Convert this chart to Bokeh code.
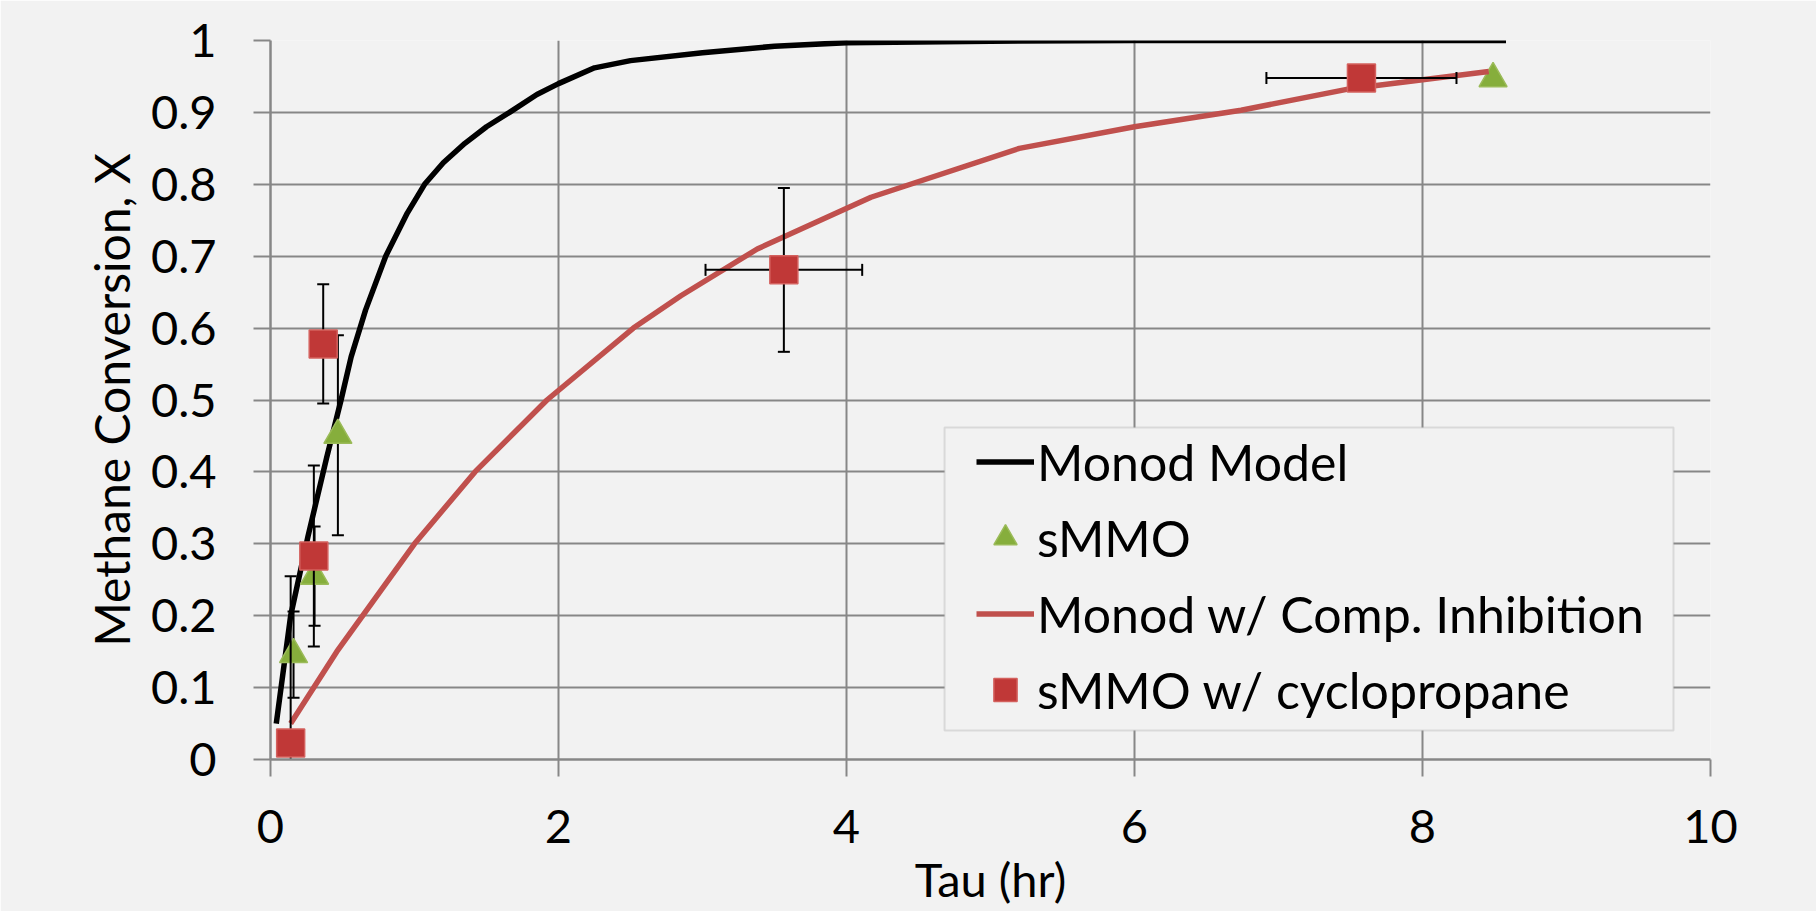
import numpy as np
from bokeh.plotting import figure
from bokeh.models import (Range1d, FixedTicker, Legend, LegendItem, BoxAnnotation)
from bokeh.embed import file_html
from bokeh.resources import INLINE

# ---------------- data ----------------
tau_monod = [0.04, 0.14, 0.26, 0.39, 0.49, 0.56, 0.66, 0.80, 0.95, 1.07, 1.20, 1.35, 1.50, 1.66,
             1.85, 2.00, 2.25, 2.50, 3.00, 3.50, 4.00, 5.00, 6.00, 7.00, 8.00, 8.58]
x_monod = [0.05, 0.20, 0.31, 0.42, 0.50, 0.56, 0.625, 0.70, 0.76, 0.80, 0.83, 0.857, 0.88, 0.90,
           0.925, 0.94, 0.962, 0.972, 0.983, 0.992, 0.997, 0.999, 1.0, 1.0, 1.0, 1.0]

tau_inhib = [0.14, 0.46, 1.00, 1.42, 1.92, 2.52, 2.85, 3.38, 4.17, 5.20, 6.00, 6.74, 7.50, 8.46]
x_inhib = [0.05, 0.15, 0.30, 0.40, 0.50, 0.60, 0.645, 0.71, 0.782, 0.85, 0.88, 0.903, 0.933, 0.957]

smmo_tau = [0.16, 0.306, 0.468, 8.49]
smmo_x = [0.146, 0.255, 0.451, 0.947]
smmo_tau_err = [0.0, 0.0, 0.0, 0.0]
smmo_x_err = [0.06, 0.069, 0.139, 0.0]

cyc_tau = [0.14, 0.301, 0.366, 3.565, 7.576]
cyc_x = [0.023, 0.283, 0.578, 0.681, 0.948]
cyc_tau_err = [0.0, 0.0, 0.0, 0.544, 0.66]
cyc_x_err = [0.232, 0.126, 0.083, 0.114, 0.0]

x_ticks = [0, 2, 4, 6, 8, 10]
y_ticks = [0, 0.1, 0.2, 0.3, 0.4, 0.5, 0.6, 0.7, 0.8, 0.9, 1]
y_tick_labels = ["0", "0.1", "0.2", "0.3", "0.4", "0.5", "0.6", "0.7", "0.8", "0.9", "1"]

series_names = ["Monod Model", "sMMO", "Monod w/ Comp. Inhibition", "sMMO w/ cyclopropane"]

# legend frame (data units of the plot)
legend_box = dict(left=4.681, right=9.743, top=0.4618, bottom=0.0403)

BG = "#F2F2F2"
GRID = "#878787"
FONT = "Lato"

p = figure(width=1816, height=911, output_backend="svg", toolbar_location=None,
           x_range=Range1d(0, 10), y_range=Range1d(0, 1),
           min_border_left=270, min_border_right=106, min_border_top=40, min_border_bottom=152,
           background_fill_color=BG, border_fill_color=BG, outline_line_color=None)

# axes
for ax in (p.xaxis[0], p.yaxis[0]):
    ax.axis_line_color = GRID
    ax.axis_line_width = 2.5
    ax.major_tick_line_color = GRID
    ax.major_tick_line_width = 2
    ax.major_tick_in = 0
    ax.major_tick_out = 17
    ax.minor_tick_line_color = None
    ax.major_label_text_font = FONT
    ax.major_label_text_font_size = "47px"
    ax.major_label_text_color = "black"
    ax.axis_label_text_font = FONT
    ax.axis_label_text_font_style = "normal"
    ax.axis_label_text_color = "black"

p.xaxis.axis_label_text_font_size = "47px"
p.yaxis.axis_label_text_font_size = "48px"
p.xaxis.ticker = FixedTicker(ticks=x_ticks)
p.yaxis.ticker = FixedTicker(ticks=y_ticks)
p.yaxis.major_label_overrides = {t: s for t, s in zip(y_ticks, y_tick_labels)}
p.xaxis.axis_label = "Tau (hr)"
p.yaxis.axis_label = "Methane Conversion, X"
p.xaxis.major_label_standoff = 33
p.xaxis.axis_label_standoff = 5
p.yaxis.major_label_standoff = 37
p.yaxis.axis_label_standoff = 8

p.grid.grid_line_color = GRID
p.grid.grid_line_width = 2
p.xgrid.ticker = FixedTicker(ticks=x_ticks)
p.ygrid.ticker = FixedTicker(ticks=y_ticks)

CAP = 12


def error_bars(tau, xv, tau_err, x_err):
    tau = np.array(tau, float); xv = np.array(xv, float)
    te = np.array(tau_err, float); xe = np.array(x_err, float)
    mv = xe > 0
    mh = te > 0
    if mv.any():
        p.segment(tau[mv], xv[mv] - xe[mv], tau[mv], xv[mv] + xe[mv],
                  line_color="black", line_width=2)
        p.scatter(np.r_[tau[mv], tau[mv]], np.r_[xv[mv] - xe[mv], xv[mv] + xe[mv]],
                  marker="dash", size=CAP, line_color="black", line_width=2)
    if mh.any():
        p.segment(tau[mh] - te[mh], xv[mh], tau[mh] + te[mh], xv[mh],
                  line_color="black", line_width=2)
        p.scatter(np.r_[tau[mh] - te[mh], tau[mh] + te[mh]], np.r_[xv[mh], xv[mh]],
                  marker="dash", angle=np.pi / 2, size=CAP, line_color="black", line_width=2)


r_monod = p.line(tau_monod, x_monod, line_color="black", line_width=5.5, line_join="round")
error_bars(smmo_tau, smmo_x, smmo_tau_err, smmo_x_err)
r_smmo = p.scatter(smmo_tau, smmo_x, marker="triangle", size=28,
                   fill_color="#86AE3C", line_color="#9BBB59", line_width=1.5)
r_inhib = p.line(tau_inhib, x_inhib, line_color="#C0504D", line_width=5.5, line_join="round")
error_bars(cyc_tau, cyc_x, cyc_tau_err, cyc_x_err)
r_cyc = p.scatter(cyc_tau, cyc_x, marker="square", size=28,
                  fill_color="#C03837", line_color="#D4615E", line_width=1.5)

box = BoxAnnotation(fill_color=BG, fill_alpha=1, line_color="#A0A0A0", line_width=2,
                    **legend_box)
p.add_layout(box)

legend = Legend(items=[LegendItem(label=n, renderers=[r]) for n, r in
                       zip(series_names, [r_monod, r_smmo, r_inhib, r_cyc])],
                location=(706, 37), padding=0, margin=0, spacing=11,
                glyph_width=58, glyph_height=65, label_height=65, label_standoff=3,
                label_text_font=FONT, label_text_font_size="50px",
                label_text_color="black",
                background_fill_alpha=0, border_line_alpha=0)
p.add_layout(legend)

open("out.html", "w").write(file_html(p, INLINE))
